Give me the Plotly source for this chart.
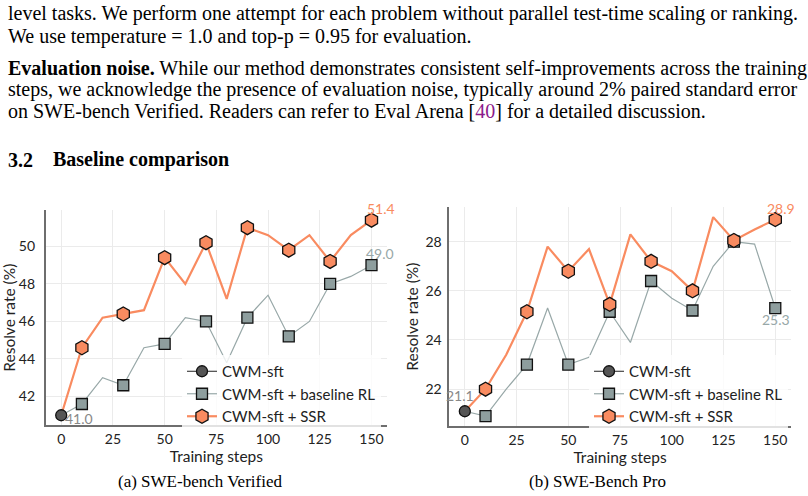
import plotly.graph_objects as go

# ---------------- data ----------------
steps = [0, 10, 20, 30, 40, 50, 60, 70, 80, 90, 100, 110, 120, 130, 140, 150]
marked_steps = [10, 30, 50, 70, 90, 110, 130, 150]

verified_baseline = [41.0, 41.6, 43.0, 42.6, 44.6, 44.8, 46.2, 46.0, 43.8, 46.2, 47.4, 45.2, 46.0, 48.0, 48.4, 49.0]
verified_ssr = [41.0, 44.6, 46.2, 46.4, 46.6, 49.4, 48.0, 50.2, 47.2, 51.0, 50.6, 49.8, 50.6, 49.2, 50.6, 51.4]
verified_sft = 41.0

pro_baseline = [21.1, 20.9, 22.0, 23.0, 25.3, 23.0, 23.3, 25.15, 23.9, 26.4, 25.7, 25.2, 27.0, 28.0, 27.9, 25.3]
pro_ssr = [21.1, 22.0, 23.4, 25.15, 27.8, 26.8, 27.7, 25.45, 28.3, 27.2, 26.8, 26.0, 29.0, 28.05, 28.5, 28.9]
pro_sft = 21.1

x_ticks = [0, 25, 50, 75, 100, 125, 150]
verified_yticks = [42, 44, 46, 48, 50]
pro_yticks = [22, 24, 26, 28]

series_names = ["CWM-sft", "CWM-sft + baseline RL", "CWM-sft + SSR"]

# ---------------- styles ----------------
W, H = 808, 496
ORANGE = "#F98B60"
GRAY_LINE = "#98A8A8"
GRAY_FILL = "#8E9E9E"
DARK = "#555555"
CHART_FONT = "Lato"
SERIF = "Liberation Serif"

fig = go.Figure()


def px_x(p):
    return p / W


def px_y(p):
    return 1 - p / H


def add_panel(xa, ya, legend, base, ssr, sft):
    mk = [steps.index(s) for s in marked_steps]
    fig.add_trace(go.Scatter(x=steps, y=base, mode="lines", line=dict(color=GRAY_LINE, width=1.2),
                             xaxis=xa, yaxis=ya, showlegend=False, hoverinfo="skip"))
    fig.add_trace(go.Scatter(x=[steps[i] for i in mk], y=[base[i] for i in mk], mode="markers",
                             marker=dict(symbol="square", size=11, color=GRAY_FILL,
                                         line=dict(color="#111111", width=1.3)),
                             xaxis=xa, yaxis=ya, showlegend=False))
    fig.add_trace(go.Scatter(x=steps, y=ssr, mode="lines", line=dict(color=ORANGE, width=2.2),
                             xaxis=xa, yaxis=ya, showlegend=False, hoverinfo="skip"))
    fig.add_trace(go.Scatter(x=[steps[i] for i in mk], y=[ssr[i] for i in mk], mode="markers",
                             marker=dict(symbol="hexagon", size=14, color=ORANGE,
                                         line=dict(color="#111111", width=1.3)),
                             xaxis=xa, yaxis=ya, showlegend=False))
    fig.add_trace(go.Scatter(x=[0], y=[sft], mode="markers",
                             marker=dict(symbol="circle", size=11, color=DARK,
                                         line=dict(color="#111111", width=1.3)),
                             xaxis=xa, yaxis=ya, showlegend=False))
    fig.add_trace(go.Scatter(x=[None], y=[None], mode="lines+markers", name=series_names[0],
                             line=dict(color="#222222", width=1),
                             marker=dict(symbol="circle", size=11, color=DARK, line=dict(color="#111111", width=1.3)),
                             xaxis=xa, yaxis=ya, legend=legend))
    fig.add_trace(go.Scatter(x=[None], y=[None], mode="lines+markers", name=series_names[1],
                             line=dict(color=GRAY_LINE, width=1.2),
                             marker=dict(symbol="square", size=11, color=GRAY_FILL, line=dict(color="#111111", width=1.3)),
                             xaxis=xa, yaxis=ya, legend=legend))
    fig.add_trace(go.Scatter(x=[None], y=[None], mode="lines+markers", name=series_names[2],
                             line=dict(color=ORANGE, width=2.2),
                             marker=dict(symbol="hexagon", size=14, color=ORANGE, line=dict(color="#111111", width=1.3)),
                             xaxis=xa, yaxis=ya, legend=legend))


add_panel("x", "y", "legend", verified_baseline, verified_ssr, verified_sft)
add_panel("x2", "y2", "legend2", pro_baseline, pro_ssr, pro_sft)

axis_common = dict(showgrid=True, gridcolor="#EBEBEB", gridwidth=1, zeroline=False,
                   showline=True, linecolor="#6E6E6E", linewidth=1.6, ticks="",
                   tickfont=dict(family=CHART_FONT, size=14, color="#222222"),
                   title_font=dict(family=CHART_FONT, size=15.5, color="#222222"))

legend_common = dict(xanchor="left", yanchor="top", bgcolor="rgba(255,255,255,0.8)",
                     font=dict(family=CHART_FONT, size=15, color="#222222"),
                     tracegroupgap=0, itemwidth=30)

fig.update_layout(
    width=W, height=H,
    margin=dict(l=0, r=0, t=0, b=0),
    paper_bgcolor="white", plot_bgcolor="white",
    xaxis=dict(domain=[px_x(45.7), px_x(387)], range=[-7.5, 157.5], anchor="y",
               tickvals=x_ticks, title=dict(text="Training steps", standoff=2), **axis_common),
    yaxis=dict(domain=[px_y(425), px_y(210.4)], range=[40.48, 51.92], anchor="x",
               tickvals=verified_yticks, ticklabelstandoff=6,
               title=dict(text="Resolve rate (%)", standoff=2), **axis_common),
    xaxis2=dict(domain=[px_x(449.3), px_x(790.8)], range=[-7.5, 157.5], anchor="y2",
                tickvals=x_ticks, title=dict(text="Training steps", standoff=2), **axis_common),
    yaxis2=dict(domain=[px_y(426), px_y(207.3)], range=[20.5, 29.4], anchor="x2",
                tickvals=pro_yticks, ticklabelstandoff=3,
                title=dict(text="Resolve rate (%)", standoff=3), **axis_common),
    legend=dict(x=px_x(182), y=px_y(355), **legend_common),
    legend2=dict(x=px_x(589), y=px_y(355), **legend_common),
    showlegend=True,
)

# value labels
label_font = dict(family=CHART_FONT, size=14)
labels = [
    ("x", "y", 150, verified_ssr[-1], 10, 12, ORANGE),
    ("x", "y", 150, verified_baseline[-1], 9, 12, GRAY_LINE),
    ("x", "y", 0, verified_sft, 18, -3, "#888888"),
    ("x2", "y2", 150, pro_ssr[-1], 6, 11, ORANGE),
    ("x2", "y2", 150, pro_baseline[-1], 1, -11, GRAY_LINE),
    ("x2", "y2", 0, pro_sft, -5, 16, "#888888"),
]
for xa, ya, xv, yv, dx, dy, col in labels:
    fig.add_annotation(x=xv, y=yv, xref=xa, yref=ya, text=f"{yv:.1f}", showarrow=False,
                       xshift=dx, yshift=dy, font=dict(color=col, **label_font))

# paper text
BODY = 20
paper_lines = [
    (6, 14, "level tasks. We perform one attempt for each problem without parallel test-time scaling or ranking."),
    (6, 36.5, "We use temperature = 1.0 and top-p = 0.95 for evaluation."),
    (6, 68.5, "<b>Evaluation noise.</b> While our method demonstrates consistent self-improvements across the training"),
    (6, 90, "steps, we acknowledge the presence of evaluation noise, typically around 2% paired standard error"),
    (6, 111, "on SWE-bench Verified. Readers can refer to Eval Arena [<span style='color:#8B1A8B'>40</span>] for a detailed discussion."),
    (6, 160, "<b>3.2</b>"),
    (51, 160, "<b>Baseline comparison</b>"),
]
for xx, yy, txt in paper_lines:
    fig.add_annotation(x=px_x(xx), y=px_y(yy), xref="paper", yref="paper", text=txt, showarrow=False,
                       xanchor="left", yanchor="middle", font=dict(family=SERIF, size=BODY, color="#000000"))

# captions
for cx, txt in [(200, "(a) SWE-bench Verified"), (597, "(b) SWE-Bench Pro")]:
    fig.add_annotation(x=px_x(cx), y=px_y(481), xref="paper", yref="paper", text=txt, showarrow=False,
                       xanchor="center", yanchor="middle", font=dict(family=SERIF, size=17, color="#000000"))

fig.write_html("out.html")
